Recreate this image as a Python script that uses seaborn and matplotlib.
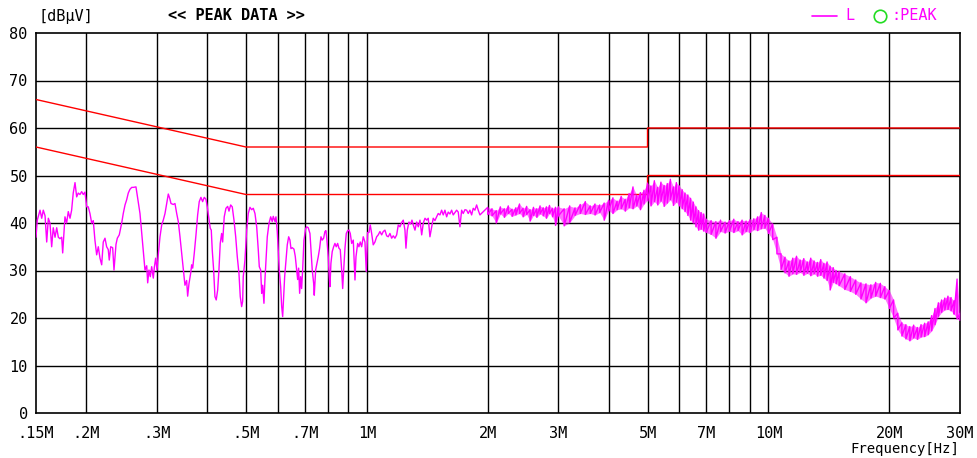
import matplotlib
matplotlib.use("Agg")
import matplotlib.pyplot as plt
from matplotlib.lines import Line2D
from matplotlib.ticker import NullLocator
import pandas as pd
import seaborn as sns

# ---------------- data ----------------
# Below 2 MHz: single trace (frequency in MHz, level in dBuV)
lf_freq = [
    0.1500, 0.1511, 0.1535, 0.1550, 0.1564, 0.1580, 0.1595, 0.1610, 0.1625, 0.1641,
    0.1656, 0.1673, 0.1689, 0.1705, 0.1721, 0.1738, 0.1748, 0.1771, 0.1788, 0.1805,
    0.1823, 0.1840, 0.1857, 0.1876, 0.1894, 0.1911, 0.1930, 0.1949, 0.1967, 0.1986,
    0.2006, 0.2024, 0.2044, 0.2064, 0.2083, 0.2103, 0.2124, 0.2144, 0.2165, 0.2186,
    0.2206, 0.2228, 0.2249, 0.2270, 0.2283, 0.2302, 0.2328, 0.2346, 0.2373, 0.2391,
    0.2418, 0.2452, 0.2474, 0.2499, 0.2523, 0.2546, 0.2571, 0.2597, 0.2621, 0.2661,
    0.2687, 0.2723, 0.2739, 0.2759, 0.2781, 0.2802, 0.2830, 0.2846, 0.2867, 0.2889,
    0.2912, 0.2939, 0.2956, 0.2979, 0.3003, 0.3024, 0.3054, 0.3084, 0.3112, 0.3143,
    0.3173, 0.3203, 0.3229, 0.3253, 0.3296, 0.3328, 0.3361, 0.3392, 0.3425, 0.3458,
    0.3490, 0.3524, 0.3558, 0.3579, 0.3606, 0.3641, 0.3662, 0.3684, 0.3717, 0.3754,
    0.3790, 0.3825, 0.3862, 0.3900, 0.3936, 0.3975, 0.4005, 0.4037, 0.4074, 0.4098,
    0.4121, 0.4154, 0.4185, 0.4216, 0.4251, 0.4282, 0.4314, 0.4349, 0.4374, 0.4414,
    0.4458, 0.4502, 0.4536, 0.4580, 0.4622, 0.4668, 0.4714, 0.4757, 0.4803, 0.4839,
    0.4878, 0.4906, 0.4923, 0.4971, 0.5020, 0.5066, 0.5116, 0.5166, 0.5214, 0.5265,
    0.5317, 0.5366, 0.5397, 0.5440, 0.5471, 0.5503, 0.5543, 0.5575, 0.5608, 0.5650,
    0.5705, 0.5761, 0.5813, 0.5847, 0.5905, 0.5938, 0.5983, 0.6017, 0.6052, 0.6101,
    0.6136, 0.6171, 0.6206, 0.6242, 0.6289, 0.6336, 0.6387, 0.6434, 0.6472, 0.6520,
    0.6584, 0.6633, 0.6686, 0.6725, 0.6763, 0.6802, 0.6841, 0.6880, 0.6920, 0.6972,
    0.7040, 0.7081, 0.7146, 0.7216, 0.7258, 0.7312, 0.7371, 0.7396, 0.7456, 0.7512,
    0.7568, 0.7628, 0.7686, 0.7742, 0.7806, 0.7863, 0.7909, 0.7954, 0.8014, 0.8060,
    0.8092, 0.8138, 0.8200, 0.8266, 0.8328, 0.8390, 0.8458, 0.8521, 0.8585, 0.8656,
    0.8706, 0.8756, 0.8821, 0.8888, 0.8959, 0.9026, 0.9093, 0.9167, 0.9251, 0.9342,
    0.9396, 0.9487, 0.9557, 0.9629, 0.9706, 0.9796, 0.9892, 0.9966, 1.0046, 1.0121,
    1.0197, 1.0279, 1.0374, 1.0475, 1.0578, 1.0675, 1.0780, 1.0886, 1.0986, 1.1094,
    1.1202, 1.1305, 1.1417, 1.1529, 1.1636, 1.1747, 1.1865, 1.1975, 1.2091, 1.2210,
    1.2322, 1.2442, 1.2514, 1.2608, 1.2731, 1.2856, 1.2952, 1.3050, 1.3178, 1.3307,
    1.3431, 1.3562, 1.3695, 1.3822, 1.3958, 1.4095, 1.4220, 1.4358, 1.4500, 1.4632,
    1.4776, 1.4920, 1.5058, 1.5206, 1.5354, 1.5496, 1.5648, 1.5802, 1.5946, 1.6104,
    1.6260, 1.6410, 1.6572, 1.6734, 1.6888, 1.7054, 1.7220, 1.7378, 1.7550, 1.7722,
    1.7884, 1.8060, 1.8236, 1.8404, 1.8584, 1.8766, 1.8940, 1.9126,
]
lf_level = [
    37.0, 40.6, 42.7, 41.0, 42.7, 41.5, 36.0, 41.0, 40.0, 35.0,
    39.0, 37.0, 39.0, 37.0, 36.7, 37.0, 33.7, 41.3, 40.0, 42.4,
    41.0, 42.7, 46.3, 48.5, 45.5, 46.3, 46.0, 46.6, 46.0, 46.5,
    43.4, 43.4, 42.0, 40.0, 40.5, 36.4, 33.3, 35.0, 32.6, 31.2,
    36.0, 36.8, 35.0, 34.4, 32.2, 35.0, 34.8, 30.1, 35.5, 36.8,
    37.5, 40.0, 42.0, 43.8, 44.9, 46.3, 47.1, 47.5, 47.5, 47.6,
    45.2, 42.0, 39.6, 36.4, 33.6, 30.1, 31.0, 27.4, 30.1, 28.7,
    30.8, 28.4, 30.6, 32.6, 30.1, 33.3, 37.1, 39.6, 40.6, 42.0,
    44.1, 46.1, 45.2, 44.1, 43.9, 44.1, 42.0, 40.3, 37.1, 33.6,
    30.1, 26.9, 27.9, 24.6, 27.2, 29.4, 31.2, 30.5, 33.6, 37.5,
    41.7, 44.5, 45.4, 44.5, 45.4, 45.0, 43.4, 41.3, 38.9, 38.5,
    34.3, 30.1, 24.5, 23.8, 25.9, 30.1, 35.7, 37.8, 36.0, 41.3,
    43.1, 43.5, 42.5, 43.8, 43.4, 40.6, 37.1, 32.9, 29.4, 24.5,
    22.4, 23.5, 28.7, 32.2, 38.5, 42.0, 43.3, 42.8, 43.1, 42.0,
    39.2, 34.3, 30.8, 30.1, 25.2, 26.9, 23.1, 28.1, 32.2, 37.1,
    39.9, 41.3, 40.3, 41.4, 40.3, 41.3, 38.2, 34.1, 30.1, 26.6,
    22.4, 20.3, 24.5, 28.7, 32.2, 35.4, 37.1, 36.4, 34.6, 34.8,
    34.5, 33.0, 30.1, 28.1, 30.5, 25.2, 28.7, 26.2, 30.1, 36.4,
    38.8, 39.2, 39.0, 37.8, 34.3, 30.1, 27.3, 24.8, 30.1, 31.5,
    32.9, 34.7, 37.1, 36.4, 36.8, 38.2, 38.4, 36.4, 32.9, 28.7,
    26.6, 31.5, 34.0, 35.0, 35.7, 35.0, 35.7, 34.7, 34.4, 30.1,
    26.2, 30.1, 34.7, 37.8, 38.4, 38.5, 37.8, 35.7, 36.4, 28.0,
    32.9, 35.7, 35.0, 36.0, 35.0, 37.1, 36.0, 29.8, 38.0, 38.0,
    39.6, 37.8, 35.4, 36.0, 37.1, 37.5, 38.2, 37.5, 38.2, 38.5,
    37.3, 37.1, 37.8, 36.8, 37.3, 36.8, 37.5, 39.6, 39.2, 40.1,
    40.6, 38.5, 34.7, 38.5, 40.2, 39.8, 40.6, 39.6, 38.5, 40.2,
    39.2, 40.6, 37.5, 40.0, 41.0, 40.6, 41.0, 37.1, 39.2, 41.0,
    40.5, 41.3, 42.0, 41.7, 42.7, 41.7, 42.7, 41.3, 42.3, 41.9,
    42.7, 41.7, 42.2, 42.7, 42.3, 39.2, 42.7, 42.0, 42.8, 42.7,
    42.0, 42.7, 41.7, 43.1, 42.7, 43.8, 42.7, 41.7,
]

# From 2 MHz up: peak-detector envelope per frequency bin (max / min, dBuV)
hf_freq = [
    2.00, 2.05, 2.10, 2.15, 2.20, 2.25, 2.30, 2.35, 2.40, 2.45,
    2.50, 2.55, 2.60, 2.65, 2.70, 2.75, 2.80, 2.85, 2.90, 2.95,
    3.0, 3.1, 3.2, 3.3, 3.4, 3.5, 3.6, 3.7, 3.8, 3.9,
    4.0, 4.1, 4.2, 4.3, 4.4, 4.5, 4.6, 4.7, 4.8, 4.9,
    5.0, 5.1, 5.2, 5.3, 5.4, 5.5, 5.6, 5.7, 5.8, 5.9,
    6.0, 6.1, 6.2, 6.3, 6.4, 6.5, 6.6, 6.7, 6.8, 6.9,
    7.0, 7.2, 7.4, 7.6, 7.8, 8.0, 8.2, 8.4, 8.6, 8.8,
    9.0, 9.2, 9.4, 9.6, 9.8, 10.0,
    10.25, 10.5, 10.75, 11.0, 11.25, 11.5, 11.75, 12.0, 12.25, 12.5,
    12.75, 13.0, 13.25, 13.5, 13.75, 14.0, 14.25, 14.5, 14.75,
    15.0, 15.5, 16.0, 16.5, 17.0, 17.5, 18.0, 18.5, 19.0, 19.5,
    20.0, 20.5, 21.0, 21.5, 22.0, 22.5, 23.0, 23.5, 24.0, 24.5,
    25.0, 25.5, 26.0, 26.5, 27.0, 27.5, 28.0, 28.5, 29.0, 29.5, 30.0,
]
hf_max = [
    43.3, 43.0, 42.6, 43.4, 43.0, 43.6, 42.9, 43.2, 44.0, 43.1,
    43.5, 42.8, 43.3, 43.0, 43.6, 43.2, 43.4, 43.7, 43.1, 43.3,
    43.4, 43.0, 43.6, 43.2, 43.9, 44.5, 43.6, 44.0, 43.8, 44.2,
    44.8, 45.3, 44.6, 45.6, 45.0, 46.2, 47.6, 45.8, 46.4, 46.9,
    48.4, 47.8, 48.9, 47.5, 48.6, 47.9, 48.3, 49.2, 47.6, 48.5,
    47.8, 47.0, 46.3, 45.9, 45.2, 44.4, 43.4, 42.6, 42.2, 41.9,
    40.8, 40.5, 40.3, 40.6, 40.2, 40.5, 40.8, 40.3, 40.6, 40.4,
    40.7, 40.9, 41.3, 42.2, 41.6, 41.0,
    39.8, 37.0, 33.5, 32.8, 32.0, 32.6, 33.0, 32.2, 32.5, 31.8,
    32.6, 32.0, 31.7, 32.3, 31.5, 31.8, 30.9, 30.6, 30.0,
    29.8, 29.3, 28.7, 28.0, 27.4, 27.2, 27.0, 27.5, 27.3, 26.6,
    25.8, 23.8, 21.0, 19.0, 18.6, 18.2, 18.5, 18.0, 18.6, 18.9,
    19.2, 20.5, 22.0, 23.2, 23.8, 24.2, 24.6, 24.3, 23.6, 28.2, 21.0,
]
hf_min = [
    41.8, 41.5, 40.0, 41.9, 41.2, 42.0, 41.4, 41.7, 42.0, 41.3,
    41.8, 40.4, 41.6, 41.2, 41.9, 41.5, 41.0, 42.0, 41.3, 39.5,
    41.5, 39.4, 40.1, 41.6, 42.0, 41.8, 42.0, 41.7, 42.2, 40.6,
    42.6, 42.0, 42.8, 43.0, 42.5, 43.2, 43.0, 43.6, 42.8, 44.0,
    44.8, 43.6, 44.5, 43.8, 44.6, 43.5, 44.2, 44.9, 43.7, 44.4,
    43.6, 43.0, 42.4, 41.6, 40.6, 40.0, 39.2, 38.5, 38.7, 38.3,
    38.0, 37.6, 36.8, 38.2, 37.9, 38.3, 38.0, 38.4, 37.5, 38.2,
    38.0, 38.6, 38.4, 38.8, 38.9, 37.8,
    36.5, 33.5, 30.2, 29.5, 28.8, 29.3, 29.2, 29.6, 29.0, 29.4,
    28.9, 29.3, 28.8, 29.0, 28.4, 27.9, 25.9, 27.5, 27.2,
    26.8, 26.0, 25.6, 25.0, 24.0, 23.2, 24.2, 24.6, 24.3, 24.0,
    22.0, 20.0, 17.5, 16.2, 15.6, 15.2, 15.8, 15.5, 16.0, 16.1,
    16.5, 17.3, 18.6, 20.3, 21.2, 21.7, 21.8, 21.5, 20.8, 19.8, 19.5,
]

# Limit lines (MHz, dBuV)
qp_freq = [0.15, 0.5, 5, 5, 30]
qp_level = [66, 56, 56, 60, 60]
av_freq = [0.15, 0.5, 5, 5, 30]
av_level = [56, 46, 46, 50, 50]

tick_freq = [0.15, 0.2, 0.3, 0.5, 0.7, 1, 2, 3, 5, 7, 10, 20, 30]
tick_text = [".15M", ".2M", ".3M", ".5M", ".7M", "1M", "2M", "3M", "5M", "7M", "10M", "20M", "30M"]
grid_freq = [0.2, 0.3, 0.4, 0.5, 0.6, 0.7, 0.8, 0.9, 1, 2, 3, 4, 5, 6, 7, 8, 9, 10, 20]
y_ticks = [0, 10, 20, 30, 40, 50, 60, 70, 80]

# ---------------- style ----------------
sns.set_theme(style="white")
plt.rcParams["font.family"] = ["DejaVu Sans Mono", "DejaVu Sans"]
cjk = ["Noto Sans CJK JP", "DejaVu Sans"]

MAGENTA = "#FF00FF"
RED = "#FF0000"

fig = plt.figure(figsize=(9.77, 4.58), dpi=100)
ax = fig.add_axes([36 / 977, 45 / 458, 924 / 977, 380 / 458])
ax.set_xscale("log")

# grid
for g in grid_freq:
    ax.axvline(g, color="black", lw=1.0, zorder=1)
for yv in y_ticks[1:-1]:
    ax.axhline(yv, color="black", lw=1.0, zorder=1)

# limit lines
lim_df = pd.DataFrame({
    "freq": qp_freq + av_freq,
    "level": qp_level + av_level,
    "limit": ["QP"] * len(qp_freq) + ["AV"] * len(av_freq),
})
sns.lineplot(data=lim_df, x="freq", y="level", units="limit", estimator=None,
             sort=False, color=RED, lw=1.0, ax=ax, zorder=3, legend=False)

# trace: single line below 2 MHz, then peak envelope drawn as min/max strokes
env_f, env_l = [], []
for f, hi, lo in zip(hf_freq, hf_max, hf_min):
    env_f += [f, f]
    env_l += [hi, lo]
trace_df = pd.DataFrame({"freq": lf_freq + env_f, "level": lf_level + env_l})
ax.fill_between(hf_freq, hf_min, hf_max, color=MAGENTA, alpha=0.55, lw=0, zorder=4)
sns.lineplot(data=trace_df, x="freq", y="level", estimator=None, sort=False,
             color=MAGENTA, lw=1.0, ax=ax, zorder=5)

# axes
ax.set_xlim(0.15, 30)
ax.set_ylim(0, 80)
ax.set_xticks(tick_freq)
ax.set_xticklabels(tick_text)
ax.xaxis.set_minor_locator(NullLocator())
ax.set_yticks(y_ticks)
ax.tick_params(axis="both", length=0, labelsize=11, colors="black")
ax.tick_params(axis="x", pad=9)
ax.tick_params(axis="y", pad=6)
ax.set_xlabel("")
ax.set_ylabel("")
for s in ax.spines.values():
    s.set_visible(True)
    s.set_color("black")
    s.set_linewidth(1.2)

# header texts
ytop = 1 - 16 / 458
fig.text(38 / 977, ytop, "[dBμV]", ha="left", va="center", fontsize=11, color="black")
fig.text(168 / 977, ytop, "<< PEAK DATA >>", ha="left", va="center", fontsize=11,
         fontweight="bold", color="black")
fig.add_artist(Line2D([812 / 977, 837 / 977], [ytop, ytop], color=MAGENTA, lw=1.2))
fig.text(845 / 977, ytop, "L", ha="left", va="center", fontsize=11, color=MAGENTA)
fig.add_artist(Line2D([880 / 977], [ytop], marker="o", markersize=9, markerfacecolor="none",
                      markeredgecolor="#22DD22", markeredgewidth=1.2, lw=0))
fig.text(891 / 977, ytop, ":PEAK", ha="left", va="center", fontsize=11, color=MAGENTA)
fig.text(959 / 977, 1 - 449 / 458, "Frequency[Hz]", ha="right", va="center", fontsize=10,
         color="black")

fig.savefig("out.png", dpi=100, facecolor="white")
